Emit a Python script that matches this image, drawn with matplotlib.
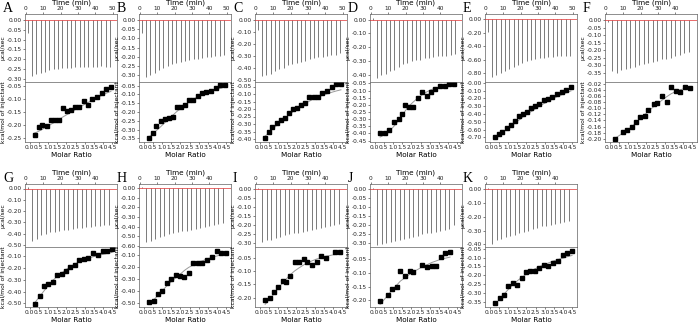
import numpy as np
import matplotlib

matplotlib.use("Agg")
import matplotlib.pyplot as plt
from matplotlib.ticker import FormatStrFormatter

# raw thermogram peak heights (ucal/sec), one per injection
A_peaks = [-0.065, -0.285, -0.275, -0.27, -0.265, -0.255, -0.25, -0.25, -0.245, -0.245, -0.245, -0.24, -0.24, -0.24, -0.24, -0.24, -0.24, -0.235, -0.24, -0.24]
B_peaks = [-0.07, -0.31, -0.30, -0.285, -0.27, -0.26, -0.25, -0.24, -0.235, -0.225, -0.22, -0.215, -0.21, -0.21, -0.205, -0.20, -0.20, -0.195, -0.195, -0.19]
C_peaks = [-0.08, -0.47, -0.465, -0.45, -0.43, -0.41, -0.40, -0.38, -0.37, -0.36, -0.35, -0.34, -0.33, -0.32, -0.31, -0.31, -0.30, -0.29, -0.29, -0.28]
D_peaks = [0.01, -0.42, -0.40, -0.39, -0.37, -0.36, -0.34, -0.32, -0.31, -0.30, -0.29, -0.29, -0.28, -0.275, -0.27, -0.265, -0.26, -0.26, -0.255, -0.25]
E_peaks = [-0.19, -0.86, -0.83, -0.80, -0.77, -0.74, -0.71, -0.68, -0.65, -0.62, -0.60, -0.59, -0.58, -0.57, -0.56, -0.56, -0.55, -0.55, -0.54, -0.54]
F_peaks = [-0.01, -0.34, -0.35, -0.33, -0.325, -0.32, -0.31, -0.30, -0.29, -0.285, -0.28, -0.27, -0.26, -0.255, -0.25, -0.24, -0.23, -0.22, -0.21]
G_peaks = [0.01, -0.47, -0.45, -0.41, -0.40, -0.39, -0.385, -0.38, -0.37, -0.365, -0.36, -0.35, -0.35, -0.34, -0.34, -0.33, -0.33, -0.32, -0.32]
H_peaks = [0.01, -0.56, -0.55, -0.53, -0.51, -0.50, -0.48, -0.47, -0.46, -0.45, -0.44, -0.43, -0.42, -0.41, -0.40, -0.39, -0.38, -0.37, -0.36]
I_peaks = [0.01, -0.29, -0.28, -0.28, -0.27, -0.265, -0.255, -0.25, -0.245, -0.24, -0.235, -0.23, -0.225, -0.22, -0.215, -0.21, -0.205, -0.20, -0.19]
J_peaks = [0.01, -0.31, -0.305, -0.30, -0.29, -0.285, -0.28, -0.275, -0.27, -0.265, -0.26, -0.25, -0.245, -0.24, -0.235, -0.23, -0.225, -0.22, -0.20]
K_peaks = [0.01, -0.40, -0.37, -0.36, -0.35, -0.34, -0.33, -0.32, -0.31, -0.30, -0.29, -0.28, -0.27, -0.265, -0.26, -0.25, -0.245, -0.24, -0.23]

# integrated heats (kcal/mol of injectant) vs molar ratio, with fitted curve
ratio19 = [0.27, 0.49, 0.70, 0.92, 1.14, 1.36, 1.59, 1.81, 2.03, 2.26, 2.48, 2.70, 2.93, 3.16, 3.39, 3.65, 3.91, 4.16, 4.42]
ratio18 = [0.30, 0.55, 0.80, 1.02, 1.25, 1.50, 1.75, 2.00, 2.22, 2.45, 2.70, 2.95, 3.20, 3.45, 3.72, 3.98, 4.22, 4.48]

A_heat = [-0.24, -0.206, -0.199, -0.202, -0.181, -0.181, -0.18, -0.133, -0.148, -0.141, -0.13, -0.131, -0.108, -0.122, -0.099, -0.092, -0.078, -0.063, -0.053]
A_fit = [-0.231, -0.224, -0.216, -0.207, -0.198, -0.189, -0.179, -0.169, -0.160, -0.150, -0.141, -0.132, -0.123, -0.114, -0.105, -0.096, -0.087, -0.078, -0.071]
B_heat = [-0.345, -0.317, -0.28, -0.25, -0.242, -0.232, -0.228, -0.17, -0.172, -0.158, -0.132, -0.13, -0.112, -0.092, -0.085, -0.08, -0.064, -0.045, -0.045]
B_fit = [-0.343, -0.325, -0.305, -0.284, -0.262, -0.240, -0.218, -0.197, -0.178, -0.160, -0.143, -0.128, -0.114, -0.102, -0.091, -0.082, -0.073, -0.066, -0.059]
C_heat = [-0.393, -0.352, -0.323, -0.293, -0.276, -0.262, -0.228, -0.197, -0.195, -0.17, -0.159, -0.123, -0.119, -0.117, -0.092, -0.083, -0.055, -0.035, -0.03]
C_fit = [-0.385, -0.36, -0.335, -0.31, -0.286, -0.262, -0.24, -0.218, -0.198, -0.18, -0.163, -0.148, -0.134, -0.121, -0.11, -0.099, -0.089, -0.08, -0.072]
D_ratio = [0.30, 0.55, 0.80, 1.05, 1.30, 1.50, 1.65, 1.85, 2.10, 2.35, 2.60, 2.85, 3.05, 3.30, 3.55, 3.80, 4.05, 4.30]
D_heat = [-0.40, -0.40, -0.375, -0.32, -0.30, -0.265, -0.20, -0.215, -0.215, -0.15, -0.11, -0.135, -0.11, -0.09, -0.07, -0.07, -0.055, -0.055]
D_fit = [-0.425, -0.41, -0.385, -0.35, -0.31, -0.275, -0.245, -0.21, -0.18, -0.152, -0.128, -0.108, -0.095, -0.083, -0.073, -0.066, -0.06, -0.056]
E_heat = [-0.70, -0.66, -0.63, -0.58, -0.54, -0.49, -0.43, -0.40, -0.37, -0.33, -0.30, -0.27, -0.22, -0.21, -0.18, -0.14, -0.12, -0.09, -0.05]
E_fit = [-0.71, -0.675, -0.64, -0.60, -0.56, -0.52, -0.48, -0.44, -0.40, -0.37, -0.335, -0.30, -0.27, -0.24, -0.21, -0.18, -0.155, -0.13, -0.105]
F_ratio = [0.30, 0.75, 0.95, 1.20, 1.45, 1.65, 1.90, 2.10, 2.40, 2.60, 2.85, 3.10, 3.35, 3.60, 3.85, 4.10, 4.35]
F_heat = [-0.20, -0.177, -0.17, -0.16, -0.145, -0.128, -0.125, -0.105, -0.088, -0.083, -0.06, -0.08, -0.032, -0.045, -0.047, -0.03, -0.033]
F_fit = [-0.198, -0.18, -0.172, -0.16, -0.147, -0.135, -0.122, -0.11, -0.095, -0.086, -0.074, -0.063, -0.053, -0.046, -0.04, -0.036, -0.033]
G_heat = [-0.505, -0.44, -0.35, -0.335, -0.32, -0.26, -0.25, -0.22, -0.19, -0.17, -0.13, -0.12, -0.11, -0.07, -0.09, -0.05, -0.05, -0.04]
G_fit = [-0.49, -0.44, -0.39, -0.345, -0.305, -0.27, -0.24, -0.21, -0.185, -0.165, -0.145, -0.13, -0.115, -0.103, -0.092, -0.082, -0.074, -0.066]
H_heat = [-0.49, -0.48, -0.42, -0.40, -0.33, -0.30, -0.26, -0.27, -0.28, -0.245, -0.16, -0.165, -0.165, -0.135, -0.11, -0.06, -0.08, -0.08]
H_fit = [-0.50, -0.47, -0.43, -0.395, -0.355, -0.32, -0.285, -0.255, -0.225, -0.20, -0.18, -0.16, -0.145, -0.13, -0.115, -0.105, -0.095, -0.085]
I_ratio = [0.30, 0.55, 0.80, 1.00, 1.25, 1.45, 1.65, 1.90, 2.15, 2.40, 2.60, 2.85, 3.10, 3.35, 3.60, 4.10, 4.35]
I_heat = [-0.21, -0.20, -0.18, -0.16, -0.138, -0.143, -0.117, -0.068, -0.068, -0.055, -0.068, -0.079, -0.066, -0.043, -0.053, -0.03, -0.03]
I_fit = [-0.225, -0.205, -0.185, -0.165, -0.145, -0.13, -0.115, -0.10, -0.088, -0.077, -0.07, -0.062, -0.055, -0.05, -0.045, -0.038, -0.035]
J_ratio = [0.30, 0.75, 0.95, 1.20, 1.40, 1.65, 1.90, 2.10, 2.60, 2.85, 3.10, 3.35, 3.60, 3.85, 4.10]
J_heat = [-0.203, -0.18, -0.158, -0.15, -0.093, -0.112, -0.092, -0.097, -0.07, -0.077, -0.074, -0.075, -0.043, -0.028, -0.022]
J_fit = [-0.215, -0.18, -0.162, -0.145, -0.13, -0.118, -0.105, -0.096, -0.078, -0.07, -0.062, -0.056, -0.05, -0.046, -0.042]
K_heat = [-0.36, -0.33, -0.31, -0.26, -0.245, -0.255, -0.215, -0.18, -0.175, -0.175, -0.16, -0.14, -0.145, -0.13, -0.12, -0.085, -0.075, -0.065]
K_fit = [-0.365, -0.335, -0.305, -0.28, -0.255, -0.232, -0.212, -0.194, -0.178, -0.165, -0.152, -0.14, -0.13, -0.12, -0.111, -0.103, -0.095, -0.088]

# letter -> (peaks, inj start, inj step, ratio, heat, fit,
#            top ylim, top tick range, bottom ylim, bottom tick range)
PANELS = {
    "A": (A_peaks, 1.0, 2.5, ratio19, A_heat, A_fit, (-0.315, 0.03), (-0.30, 0.05), (-0.265, -0.035), (-0.25, -0.05, 0.05)),
    "B": (B_peaks, 1.0, 2.5, ratio19, B_heat, B_fit, (-0.335, 0.03), (-0.30, 0.05), (-0.37, -0.03), (-0.35, -0.05, 0.05)),
    "C": (C_peaks, 1.0, 2.5, ratio19, C_heat, C_fit, (-0.52, 0.05), (-0.50, 0.10), (-0.42, -0.02), (-0.40, -0.05, 0.05)),
    "D": (D_peaks, 1.0, 2.5, D_ratio, D_heat, D_fit, (-0.45, 0.04), (-0.40, 0.10), (-0.46, -0.04), (-0.45, -0.05, 0.05)),
    "E": (E_peaks, 1.0, 2.5, ratio19, E_heat, E_fit, (-0.93, 0.08), (-0.80, 0.20), (-0.76, 0.01), (-0.70, 0.0, 0.10)),
    "F": (F_peaks, 1.0, 2.6, F_ratio, F_heat, F_fit, (-0.41, 0.04), (-0.35, 0.05), (-0.21, -0.015), (-0.20, -0.02, 0.02)),
    "G": (G_peaks, 1.0, 2.6, ratio18, G_heat, G_fit, (-0.52, 0.04), (-0.50, 0.10), (-0.53, -0.02), (-0.50, -0.10, 0.10)),
    "H": (H_peaks, 1.0, 2.6, ratio18, H_heat, H_fit, (-0.61, 0.04), (-0.60, 0.10), (-0.53, -0.03), (-0.50, -0.10, 0.10)),
    "I": (I_peaks, 1.0, 2.6, I_ratio, I_heat, I_fit, (-0.32, 0.03), (-0.30, 0.05), (-0.235, -0.01), (-0.20, -0.05, 0.05)),
    "J": (J_peaks, 1.0, 2.6, J_ratio, J_heat, J_fit, (-0.32, 0.03), (-0.30, 0.05), (-0.225, -0.005), (-0.20, -0.05, 0.05)),
    "K": (K_peaks, 1.0, 2.6, ratio18, K_heat, K_fit, (-0.42, 0.04), (-0.40, 0.10), (-0.38, -0.04), (-0.35, -0.05, 0.05)),
}

W, H = 700, 328
LEFTS = {"A": 25, "B": 139, "C": 255, "D": 370, "E": 485, "F": 605,
         "G": 25, "H": 139, "I": 255, "J": 370, "K": 485}
ROW1 = (14, 82, 142)    # top of thermogram, split, bottom of isotherm (px)
ROW2 = (184, 247, 307)
PW = 92

TICK_FS = 4.2
LAB_FS = 5.2
YLAB_FS = 4.3
FRAME = "#606060"


def px_axes(fig, x, y0, y1):
    return fig.add_axes([x / W, 1 - y1 / H, PW / W, (y1 - y0) / H])


def style(ax):
    for s in ax.spines.values():
        s.set_color(FRAME)
        s.set_linewidth(0.5)
    ax.tick_params(labelsize=TICK_FS, length=1.5, width=0.4, pad=0.8, colors="#222222")


fig = plt.figure(figsize=(W / 100, H / 100), dpi=100)

for key, (peaks, t0, dt, ratio, heat, fit, tylim, ttick, bylim, brange) in PANELS.items():
    y_top, y_mid, y_bot = ROW1 if key in "ABCDEF" else ROW2
    x0 = LEFTS[key]

    # thermogram
    ax = px_axes(fig, x0, y_top, y_mid)
    style(ax)
    times = t0 + dt * np.arange(len(peaks))
    ax.axhline(0, color="#e03030", lw=0.5, zorder=3)
    ax.vlines(times, 0, peaks, color="#7a7a7a", lw=0.7)
    ax.set_xlim(-0.5, 52.5)
    ax.set_ylim(*tylim)
    ax.xaxis.tick_top()
    ax.xaxis.set_label_position("top")
    ax.set_xticks([0, 10, 20, 30, 40, 50] if key in "ABCE" else [0, 10, 20, 30, 40])
    ax.set_xlabel("Time (min)", fontsize=LAB_FS, labelpad=1)
    tlo, tst = ttick
    ax.set_yticks(np.arange(0, tlo - 1e-9, -tst))
    ax.yaxis.set_major_formatter(FormatStrFormatter("%.2f"))
    ax.set_ylabel("µcal/sec", fontsize=YLAB_FS, labelpad=0.5)

    # integrated heats
    bx = px_axes(fig, x0, y_mid, y_bot)
    style(bx)
    bx.plot(ratio, fit, color="#9a9a9a", lw=0.7)
    bx.plot(ratio, heat, "s", color="black", ms=2.4)
    bx.set_xlim(-0.25, 4.75)
    bx.set_ylim(*bylim)
    bx.set_xticks(np.arange(0, 4.51, 0.5))
    bx.xaxis.set_major_formatter(FormatStrFormatter("%.1f"))
    lo, hi, st = brange
    bx.set_yticks(np.arange(lo, hi + 1e-9, st))
    bx.yaxis.set_major_formatter(FormatStrFormatter("%.2f"))
    bx.set_xlabel("Molar Ratio", fontsize=LAB_FS, labelpad=1)
    bx.set_ylabel("kcal/mol of injectant", fontsize=YLAB_FS, labelpad=0.5)

    fig.text((x0 - 22) / W, 1 - (y_top - 6) / H, key, fontsize=10,
             family="Liberation Serif", va="center", ha="left")

fig.savefig("out.png", dpi=100)
